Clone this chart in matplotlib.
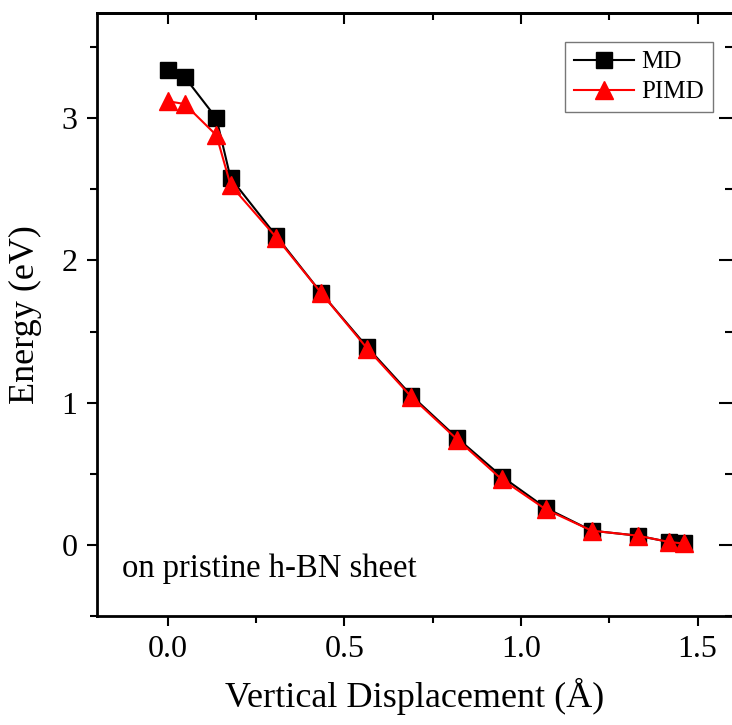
import matplotlib
matplotlib.use("Agg")
import matplotlib.pyplot as plt
from matplotlib.ticker import MultipleLocator, NullFormatter

plt.rcParams['font.family'] = ['Liberation Serif', 'DejaVu Serif']
plt.rcParams['mathtext.fontset'] = 'stix'

disp_md = [0.0, 0.048, 0.138, 0.178, 0.308, 0.435, 0.565, 0.69, 0.82, 0.946, 1.07, 1.2, 1.33, 1.42, 1.46]
energy_md = [3.34, 3.29, 3.00, 2.58, 2.17, 1.77, 1.39, 1.05, 0.75, 0.48, 0.26, 0.10, 0.065, 0.02, 0.01]
disp_pimd = [0.0, 0.048, 0.138, 0.178, 0.308, 0.435, 0.565, 0.69, 0.82, 0.946, 1.07, 1.2, 1.33, 1.42, 1.46]
energy_pimd = [3.12, 3.10, 2.88, 2.53, 2.16, 1.77, 1.38, 1.04, 0.74, 0.46, 0.25, 0.10, 0.065, 0.02, 0.01]

fig = plt.figure(figsize=(7.32, 7.25), dpi=100)
ax = fig.add_axes([97/732, 1-616/725, (733-97)/732, (616-13)/725])

ax.plot(disp_md, energy_md, color='black', lw=1.5, marker='s', ms=11, label='MD', zorder=3)
ax.plot(disp_pimd, energy_pimd, color='red', lw=1.5, marker='^', ms=13, label='PIMD', zorder=4)

ax.set_xlim(-0.2, 1.6)
ax.set_ylim(-0.5, 3.74)
ax.xaxis.set_major_locator(MultipleLocator(0.5))
ax.xaxis.set_minor_locator(MultipleLocator(0.25))
ax.yaxis.set_major_locator(MultipleLocator(1))
ax.yaxis.set_minor_locator(MultipleLocator(0.5))
ax.xaxis.set_major_formatter(matplotlib.ticker.FormatStrFormatter('%.1f'))

for s in ax.spines.values():
    s.set_linewidth(2)

ax.tick_params(axis='both', which='major', length=7, width=1.5, labelsize=23, direction='out', pad=7)
ax.tick_params(axis='both', which='minor', length=5, width=1.5, direction='out')

# mirrored inward ticks on top and right
top = ax.secondary_xaxis('top')
top.xaxis.set_major_locator(MultipleLocator(0.5))
top.xaxis.set_minor_locator(MultipleLocator(0.25))
top.xaxis.set_major_formatter(NullFormatter())
top.tick_params(which='major', direction='in', length=8, width=1.5)
top.tick_params(which='minor', direction='in', length=5, width=1.5)
top.spines['top'].set_linewidth(2)

right = ax.secondary_yaxis('right')
right.yaxis.set_major_locator(MultipleLocator(1))
right.yaxis.set_minor_locator(MultipleLocator(0.5))
right.yaxis.set_major_formatter(NullFormatter())
right.tick_params(which='major', direction='in', length=10, width=1.5)
right.tick_params(which='minor', direction='in', length=6, width=1.5)

ax.set_xlabel('Vertical Displacement (Å)', fontsize=26, labelpad=10)
ax.set_ylabel('Energy (eV)', fontsize=26, labelpad=14)

ax.text(0.039, 0.065, 'on pristine h-BN sheet', transform=ax.transAxes,
        fontsize=23.5, va='baseline', ha='left')

leg = ax.legend(loc='upper right', bbox_to_anchor=(713/732, 1-42/725),
                bbox_transform=fig.transFigure, borderaxespad=0, fontsize=18,
                fancybox=False, frameon=True, edgecolor='#555555',
                handlelength=2.4, handletextpad=0.3, borderpad=0.35, labelspacing=0.3)
leg.get_frame().set_linewidth(1)

fig.savefig('out.png', dpi=100)
